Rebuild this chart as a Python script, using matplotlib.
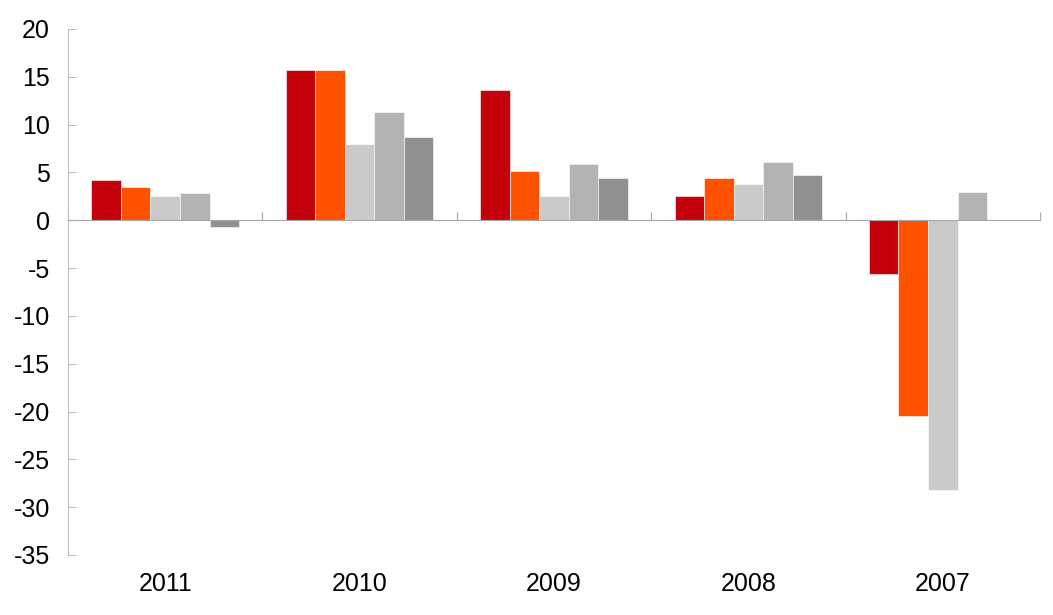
import matplotlib
matplotlib.use("Agg")
import matplotlib.pyplot as plt
import numpy as np

plt.rcParams['font.family'] = ['Liberation Sans', 'DejaVu Sans']
plt.rcParams['axes.unicode_minus'] = False

years = ["2011", "2010", "2009", "2008", "2007"]
s1 = [4.2, 15.7, 13.6, 2.5, -5.65]
s2 = [3.5, 15.7, 5.1, 4.4, -20.5]
s3 = [2.5, 7.95, 2.5, 3.8, -28.2]
s4 = [2.8, 11.3, 5.85, 6.1, 3.0]
s5 = [-0.7, 8.7, 4.4, 4.7, np.nan]

series = [s1, s2, s3, s4, s5]
colors = ["#C4000B", "#FF5200", "#CACACA", "#B3B3B3", "#909090"]

fig = plt.figure(figsize=(10.53, 6.15), dpi=100)
ax = fig.add_axes([68/1053, 1-555/615, (1040-68)/1053, (555-29)/615])

x = np.arange(len(years))
w = 0.152
for i, (vals, c) in enumerate(zip(series, colors)):
    ax.bar(x + (i - 2) * w, vals, width=w, color=c, edgecolor="white", linewidth=0.4, zorder=2)

ax.set_xlim(-0.5, len(years) - 0.5)
ax.set_ylim(-35, 20)
ax.set_yticks(range(-35, 21, 5))

grey = "#BDBDBD"
for s in ["top", "right"]:
    ax.spines[s].set_visible(False)
ax.spines["left"].set_color(grey)
ax.spines["bottom"].set_position(("data", 0))
ax.spines["bottom"].set_color("#A8A8A8")
ax.spines["bottom"].set_zorder(3)

ax.set_xticks(np.arange(-0.5, len(years), 1.0))
ax.tick_params(axis="x", direction="in", length=6, color="#A8A8A8", labelbottom=False)
ax.tick_params(axis="y", direction="in", length=6, color=grey, labelsize=18, pad=13)

sec = ax.secondary_xaxis(0)
sec.set_xticks(x, years)
sec.tick_params(length=0, labelsize=18, pad=12)
sec.spines["bottom"].set_visible(False)

fig.savefig("out.png", dpi=100)
